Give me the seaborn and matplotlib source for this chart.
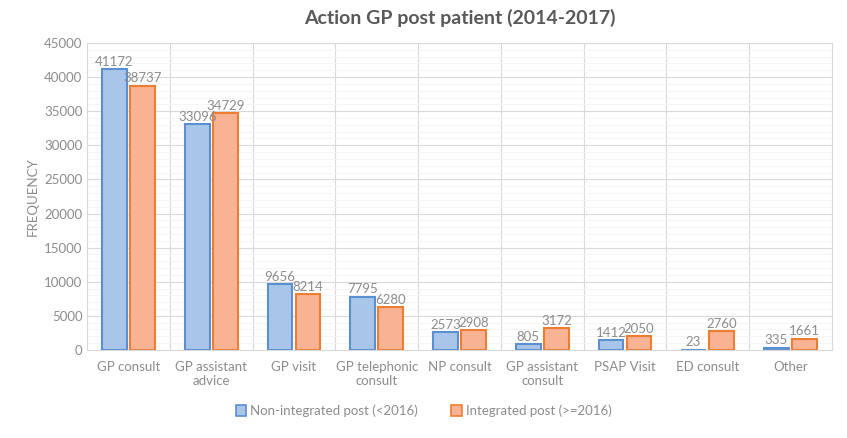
import pandas as pd
import seaborn as sns
import matplotlib.pyplot as plt
from matplotlib.ticker import MultipleLocator

categories = ["GP consult", "GP assistant\nadvice", "GP visit", "GP telephonic\nconsult",
              "NP consult", "GP assistant\nconsult", "PSAP Visit", "ED consult", "Other"]
non_integrated = [41172, 33096, 9656, 7795, 2573, 805, 1412, 23, 335]
integrated = [38737, 34729, 8214, 6280, 2908, 3172, 2050, 2760, 1661]
series = ["Non-integrated post (<2016)", "Integrated post (>=2016)"]

df = pd.DataFrame({
    "cat": categories * 2,
    "val": non_integrated + integrated,
    "post": [series[0]] * len(categories) + [series[1]] * len(categories),
})

sns.set_style("white")
plt.rcParams['font.family'] = ['Lato', 'DejaVu Sans']

fig = plt.figure(figsize=(8.47, 4.38), dpi=100)
ax = fig.add_axes([0.103, 0.201, 0.879, 0.701])

fills = ["#a9c5ea", "#f7b393"]
edges = ["#5b8fd0", "#ed7d31"]
sns.barplot(data=df, x="cat", y="val", hue="post", palette=fills, saturation=1,
            width=0.68, gap=0.12, ax=ax, legend=False)

for cont, ec in zip(ax.containers, edges):
    for p in cont:
        p.set_edgecolor(ec)
        p.set_linewidth(1.5)
    ax.bar_label(cont, fontsize=9.5, color="#8c8c8c", padding=1)

ax.set_ylim(0, 45000)
ax.set_xlim(-0.5, len(categories) - 0.5)
ax.yaxis.set_major_locator(MultipleLocator(5000))
ax.yaxis.set_minor_locator(MultipleLocator(1000))
ax.set_xticks([i + 0.5 for i in range(len(categories) - 1)], minor=True)
ax.grid(axis="y", which="major", color="#d9d9d9", lw=0.8)
ax.grid(axis="y", which="minor", color="#f4f4f4", lw=0.6)
ax.grid(axis="x", which="minor", color="#d9d9d9", lw=0.8)
ax.set_axisbelow(True)
ax.tick_params(axis="both", which="both", length=0, colors="#8c8c8c", labelsize=9.5)
ax.tick_params(axis="x", pad=8)
for s in ["top", "right", "left", "bottom"]:
    ax.spines[s].set_color("#d9d9d9")

ax.set_xlabel("")
ax.set_ylabel("FREQUENCY", color="#8c8c8c", fontsize=9.5)
ax.set_title("Action GP post patient (2014-2017)", fontsize=14, fontweight="bold",
             color="#595959", pad=14)

handles = [plt.Rectangle((0, 0), 1, 1, facecolor=f, edgecolor=e, lw=1.2)
           for f, e in zip(fills, edges)]
fig.legend(handles, series, loc="center", bbox_to_anchor=(0.5, 0.062), ncol=2,
           frameon=False, fontsize=9.5, labelcolor="#8c8c8c",
           handlelength=0.8, handleheight=0.8, handletextpad=0.3, columnspacing=2.5)

fig.savefig("out.png", dpi=100)
